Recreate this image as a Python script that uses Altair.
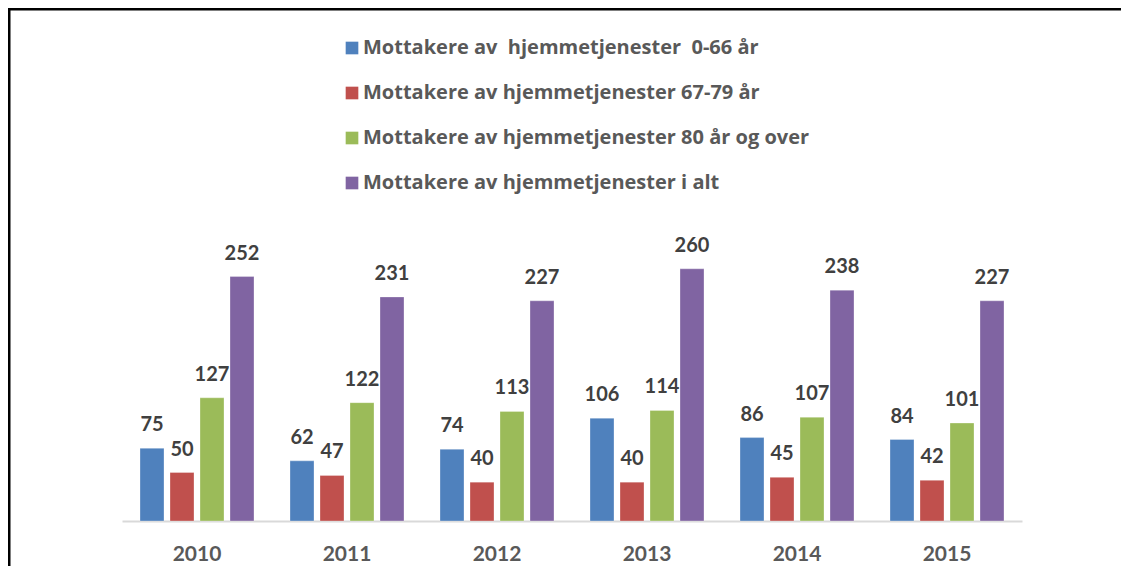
import altair as alt
import pandas as pd

years = ["2010", "2011", "2012", "2013", "2014", "2015"]
series = [
    "Mottakere av \u00a0hjemmetjenester \u00a00-66 år",
    "Mottakere av hjemmetjenester 67-79 år",
    "Mottakere av hjemmetjenester 80 år og over",
    "Mottakere av hjemmetjenester i alt",
]
v_0_66 = [75, 62, 74, 106, 86, 84]
v_67_79 = [50, 47, 40, 40, 45, 42]
v_80_over = [127, 122, 113, 114, 107, 101]
v_total = [252, 231, 227, 260, 238, 227]
colors = ["#4f81bd", "#c0504d", "#9bbb59", "#8064a2"]

rows = []
for s, vals in zip(series, [v_0_66, v_67_79, v_80_over, v_total]):
    for yr, v in zip(years, vals):
        rows.append({"year": yr, "series": s, "value": v})
df = pd.DataFrame(rows)

W, H = 900, 291
PL, PT, PR, PB = 114, 222, 99, 45
FONT = "Lato"
LFONT = "Open Sans"

x = alt.X(
    "year:N", sort=years, title=None,
    scale=alt.Scale(paddingInner=0.2, paddingOuter=0.1),
    axis=alt.Axis(labelAngle=0, labelFont=FONT, labelFontWeight="bold", labelFontSize=21,
                  labelColor="#595959", labelPadding=22, ticks=False, grid=False,
                  domainColor="#d9d9d9", domainWidth=2),
)
xo = alt.XOffset("series:N", sort=series, scale=alt.Scale(paddingInner=0.2, paddingOuter=0.1))
y = alt.Y("value:Q", scale=alt.Scale(domain=[0, 300], nice=False), axis=None)
color = alt.Color(
    "series:N", sort=series,
    scale=alt.Scale(domain=series, range=colors),
    legend=alt.Legend(title=None, orient="none", legendX=220, legendY=-192, direction="vertical",
                      symbolType="square", symbolSize=160, symbolStrokeWidth=0, symbolOpacity=1,
                      labelFont=LFONT, labelFontSize=20, labelFontWeight="bold", labelColor="#595959",
                      rowPadding=25, labelOffset=1, padding=0, labelLimit=700),
)

bars = alt.Chart(df).mark_bar(stroke="#ffffff", strokeWidth=0.6, strokeOpacity=0.5).encode(
    x=x, xOffset=xo, y=y, color=color
)
labels = alt.Chart(df).mark_text(
    baseline="alphabetic", dy=-17, font=FONT, fontWeight="bold", fontSize=20, color="#404040"
).encode(x=x, xOffset=xo, y=y, text="value:Q")

border_df = pd.DataFrame({"k": [0]})
top_rule = alt.Chart(border_df).mark_rule(color="black", strokeWidth=3).encode(
    x=alt.value(-PL), x2=alt.value(W + PR), y=alt.value(-PT + 1)
)
left_rule = alt.Chart(border_df).mark_rule(color="black", strokeWidth=3).encode(
    x=alt.value(-PL + 1), y=alt.value(-PT), y2=alt.value(H + PB)
)

chart = alt.layer(bars, labels, top_rule, left_rule).properties(
    width=W, height=H,
    padding={"left": PL, "top": PT, "right": PR, "bottom": PB},
    autosize=alt.AutoSizeParams(type="none"),
    background="white",
).configure_view(stroke=None)

chart.save("out.html", embed_options={"renderer": "svg", "actions": False})
